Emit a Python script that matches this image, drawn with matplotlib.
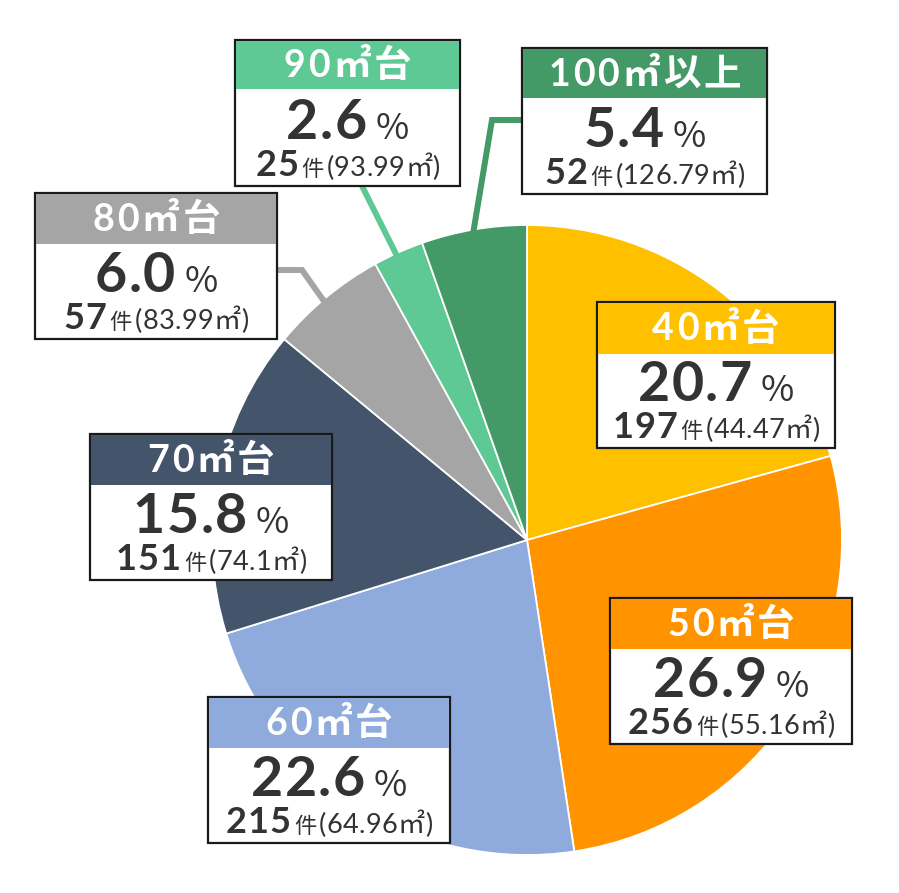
import matplotlib
matplotlib.use('Agg')
import matplotlib.pyplot as plt
from matplotlib.patches import Rectangle

categories = ['40㎡台', '50㎡台', '60㎡台', '70㎡台', '80㎡台', '90㎡台', '100㎡以上']
shares = [20.7, 26.9, 22.6, 15.8, 6.0, 2.6, 5.4]
counts = [197, 256, 215, 151, 57, 25, 52]
avg_area = ['44.47', '55.16', '64.96', '74.1', '83.99', '93.99', '126.79']
colors = ['#FFC000', '#FF9300', '#8FAADC', '#44546A', '#A5A5A5', '#5FC995', '#449A67']

# label box layout (pixel coords: x0, y0, width, height, header height)
boxes = [
    (597, 302, 238, 146, 51),
    (610, 598, 242, 146, 50),
    (208, 697, 242, 146, 50),
    (90, 434, 242, 146, 50),
    (35, 193, 242, 146, 50),
    (235, 40, 225, 146, 48),
    (522, 48, 245, 146, 49),
]
leaders = {
    4: [(277, 270), (302, 270), (326, 304)],
    5: [(362, 186), (398, 258)],
    6: [(522, 120), (492, 120), (473, 234)],
}

W, H = 899, 893
fig = plt.figure(figsize=(W / 100, H / 100), dpi=100)
ax = fig.add_axes([0, 0, 1, 1])
ax.pie(shares, colors=colors, startangle=-90, counterclock=True,
       center=(527, 540), radius=315,
       wedgeprops=dict(edgecolor='white', linewidth=1.3))
ax.set_xlim(0, W)
ax.set_ylim(H, 0)
ax.set_aspect('equal')
ax.axis('off')

for i, pts in leaders.items():
    xs = [p[0] for p in pts]
    ys = [p[1] for p in pts]
    ax.plot(xs, ys, color=colors[i], lw=4.3, solid_joinstyle='miter',
            solid_capstyle='butt', zorder=3)

DIG = ['Lato', 'Noto Sans CJK JP', 'DejaVu Sans']
CJK = ['Noto Sans CJK JP', 'DejaVu Sans']
TXT = '#333333'

renderer = fig.canvas.get_renderer()


def draw_seq(xc, yb, pieces, va='baseline'):
    objs, widths = [], []
    for txt, kw, gap in pieces:
        t = ax.text(0, yb, txt, ha='left', va=va, zorder=6, **kw)
        bb = t.get_window_extent(renderer=renderer)
        objs.append(t)
        widths.append(bb.width)
    total = sum(widths) + sum(p[2] for p in pieces[1:])
    x = xc - total / 2
    for k, (t, w, p) in enumerate(zip(objs, widths, pieces)):
        if k > 0:
            x += p[2]
        t.set_x(x)
        x += w


def tracked(s, kw, track, first_gap=0):
    out = []
    for k, ch in enumerate(s):
        out.append((ch, kw, first_gap if k == 0 else track))
    return out


for i, (x0, y0, w, h, hh) in enumerate(boxes):
    ax.add_patch(Rectangle((x0, y0), w, h, facecolor='white',
                           edgecolor='#1a1a1a', lw=1.6, zorder=4))
    ax.add_patch(Rectangle((x0 + 1, y0 + 1), w - 2, hh, facecolor=colors[i],
                           edgecolor='none', zorder=5))
    xc = x0 + w / 2
    # header
    hkw = dict(color='white', fontsize=27, fontweight='bold', family=DIG)
    draw_seq(xc, y0 + hh / 2 + 13, tracked(categories[i], hkw, 3))
    # percentage
    pkw = dict(fontsize=40, fontweight='bold', family=DIG, color=TXT)
    draw_seq(xc, y0 + 99,
             tracked(f'{shares[i]:.1f}', pkw, 1.5)
             + [('%', dict(fontsize=26, family=CJK, color=TXT), 9)])
    # count + average area
    ckw = dict(fontsize=26, fontweight='bold', family=DIG, color=TXT)
    akw = dict(fontsize=19.5, family=DIG, color=TXT)
    draw_seq(xc, y0 + 136,
             tracked(f'{counts[i]}', ckw, 1)
             + [('件', dict(fontsize=16, family=CJK, color=TXT), 3)]
             + tracked(f'({avg_area[i]}㎡)', akw, 0.3, first_gap=3))

fig.savefig('out.png', dpi=100)
